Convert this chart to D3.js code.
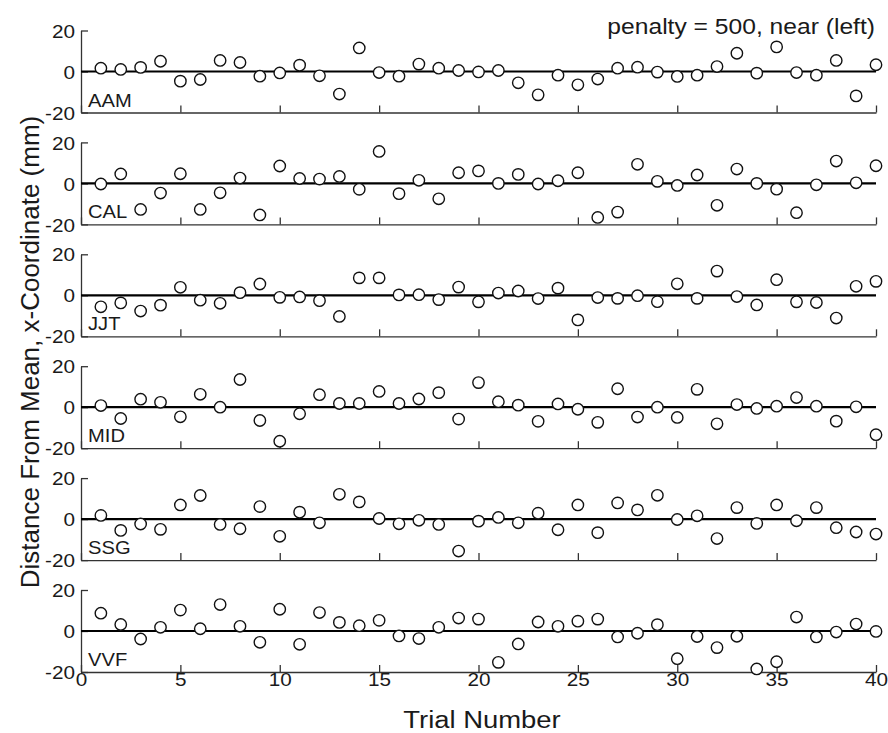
<!DOCTYPE html>
<html>
<head>
<meta charset="utf-8">
<script src="https://cdn.jsdelivr.net/npm/d3@7"></script>
<style>
  body { margin: 0; background: #fff; }
  text { font-family: "Liberation Sans", Arial, Helvetica, sans-serif; }
</style>
</head>
<body>
<svg id="chart" width="888" height="733"></svg>
<script>
const trials = d3.range(1, 41);
const subjects = ["AAM", "CAL", "JJT", "MID", "SSG", "VVF"];
const xTicks = [0, 5, 10, 15, 20, 25, 30, 35, 40];
const yTicks = [-20, 0, 20];

const AAM = [1.6, 1.0, 2.0, 5.0, -4.7, -3.9, 5.4, 4.4, -2.3, -0.7, 3.1, -2.1, -11.0, 11.5, -0.5, -2.3, 3.6, 1.6, 0.5, -0.2,
             0.5, -5.5, -11.4, -1.8, -6.5, -3.7, 1.6, 2.1, -0.3, -2.4, -1.8, 2.4, 8.9, -0.8, 12.0, -0.5, -1.8, 5.4, -11.9, 3.3];
const CAL = [-0.3, 4.6, -12.7, -4.7, 4.7, -12.7, -4.6, 2.6, -15.4, 8.5, 2.4, 2.1, 3.4, -2.9, 15.6, -5.0, 1.5, -7.5, 5.2, 6.1,
             0.0, 4.4, -0.3, 1.3, 5.2, -16.6, -14.0, 9.3, 1.0, -1.0, 4.1, -10.7, 7.0, 0.0, -2.8, -14.3, -0.7, 10.9, 0.3, 8.6];
const JJT = [-5.6, -3.7, -7.7, -4.8, 3.9, -2.4, -3.9, 1.3, 5.5, -1.0, -0.8, -2.6, -10.3, 8.5, 8.5, 0.2, 0.3, -2.1, 4.0, -3.2,
             1.1, 2.1, -1.6, 3.5, -12.0, -1.1, -1.5, -0.2, -3.1, 5.6, -1.5, 11.8, -0.6, -4.7, 7.6, -3.2, -3.5, -11.1, 4.4, 6.8];
const MID = [0.8, -5.5, 3.9, 2.4, -4.7, 6.3, 0.0, 13.5, -6.5, -16.6, -3.2, 6.1, 1.8, 1.8, 7.7, 1.8, 4.0, 7.1, -5.8, 12.0,
             2.7, 1.0, -6.9, 1.6, -1.0, -7.4, 9.0, -4.8, 0.0, -5.0, 8.7, -8.1, 1.3, -0.6, 0.5, 4.7, 0.5, -6.8, 0.2, -13.4];
const SSG = [1.8, -5.5, -2.4, -5.0, 6.9, 11.5, -2.6, -4.7, 6.1, -8.4, 3.4, -1.8, 12.1, 8.4, 0.3, -2.3, -0.6, -2.6, -15.6, -1.0,
             0.8, -1.8, 2.9, -5.2, 6.9, -6.6, 7.9, 4.5, 11.6, -0.2, 1.6, -9.5, 5.6, -2.1, 6.9, -0.8, 5.6, -4.2, -6.3, -7.3];
const VVF = [8.7, 3.2, -3.9, 1.8, 10.2, 1.1, 12.9, 2.3, -5.5, 10.6, -6.5, 9.0, 4.2, 2.6, 5.2, -2.4, -3.7, 1.8, 6.3, 5.8,
             -15.3, -6.3, 4.4, 2.3, 4.8, 5.8, -2.9, -1.1, 3.1, -13.5, -2.7, -8.1, -2.6, -18.5, -15.0, 6.8, -2.9, -0.5, 3.4, -0.2];
const seriesValues = [AAM, CAL, JJT, MID, SSG, VVF];

const titleText = "penalty = 500, near (left)";
const xLabel = "Trial Number";
const yLabel = "Distance From Mean, x-Coordinate (mm)";

const SX = 1.12; // horizontal widening of the text glyphs
const TXT = "#1a1a1a";
const fmt = d => String(d); // plain hyphen-minus, as in the reference

const svg = d3.select("#chart");
const left = 81, right = 876;
const panelTop0 = 30.5, panelStep = 111.9, panelH = 82;

const x = d3.scaleLinear().domain([0, 40]).range([left, right]);

function placeText(px, py, str, size, anchor, rot) {
  const g = svg.append("g").attr("transform", `translate(${px},${py})` + (rot ? ` rotate(${rot})` : ""));
  g.append("text")
    .attr("transform", rot ? null : `scale(${SX},1)`)
    .attr("text-anchor", anchor)
    .style("font-size", size + "px")
    .attr("fill", TXT)
    .text(str);
  return g;
}

subjects.forEach((name, i) => {
  const top = panelTop0 + i * panelStep;
  const y = d3.scaleLinear().domain([-20, 20]).range([top + panelH, top]);
  const g = svg.append("g");

  // x axis (ticks inward)
  const xAxis = d3.axisBottom(x).tickValues(xTicks).tickSize(-7).tickSizeOuter(0)
    .tickFormat(i === subjects.length - 1 ? fmt : () => "");
  const gx = g.append("g").attr("transform", `translate(0,${y(-20)})`).call(xAxis);
  gx.select(".domain").attr("stroke", "#333").attr("stroke-width", 1.3);
  gx.selectAll(".tick line").attr("stroke", "#333").attr("stroke-width", 1.3);
  gx.selectAll(".tick text")
    .attr("fill", TXT).style("font-size", "18.5px")
    .attr("dy", null).attr("y", 14)
    .attr("transform", `scale(${SX},1)`);

  // y axis (ticks inward)
  const yAxis = d3.axisLeft(y).tickValues(yTicks).tickSize(-7).tickSizeOuter(0).tickFormat(fmt);
  const gy = g.append("g").attr("transform", `translate(${left},0)`).call(yAxis);
  gy.select(".domain").attr("stroke", "#333").attr("stroke-width", 1.3);
  gy.selectAll(".tick line").attr("stroke", "#333").attr("stroke-width", 1.3);
  gy.selectAll(".tick text")
    .attr("fill", TXT).style("font-size", "18.5px")
    .attr("x", -6 / SX).attr("dy", "0.36em")
    .attr("transform", `scale(${SX},1)`);

  // zero line
  g.append("line")
    .attr("x1", x(0)).attr("x2", x(40))
    .attr("y1", y(0)).attr("y2", y(0))
    .attr("stroke", "#000").attr("stroke-width", 2.2);

  // subject label
  placeText(88, y(-20) - 6, name, 18, "start");

  // points
  g.selectAll("circle").data(seriesValues[i]).join("circle")
    .attr("cx", (d, j) => x(trials[j]))
    .attr("cy", d => y(d))
    .attr("r", 5.7)
    .attr("fill", "#fff")
    .attr("stroke", "#111")
    .attr("stroke-width", 1.4);
});

// title
placeText(875, 34, titleText, 22, "end");

// x label
placeText(482, 728, xLabel, 24.5, "middle");

// y label
placeText(39, 352, yLabel, 26, "middle", -90);
</script>
</body>
</html>
